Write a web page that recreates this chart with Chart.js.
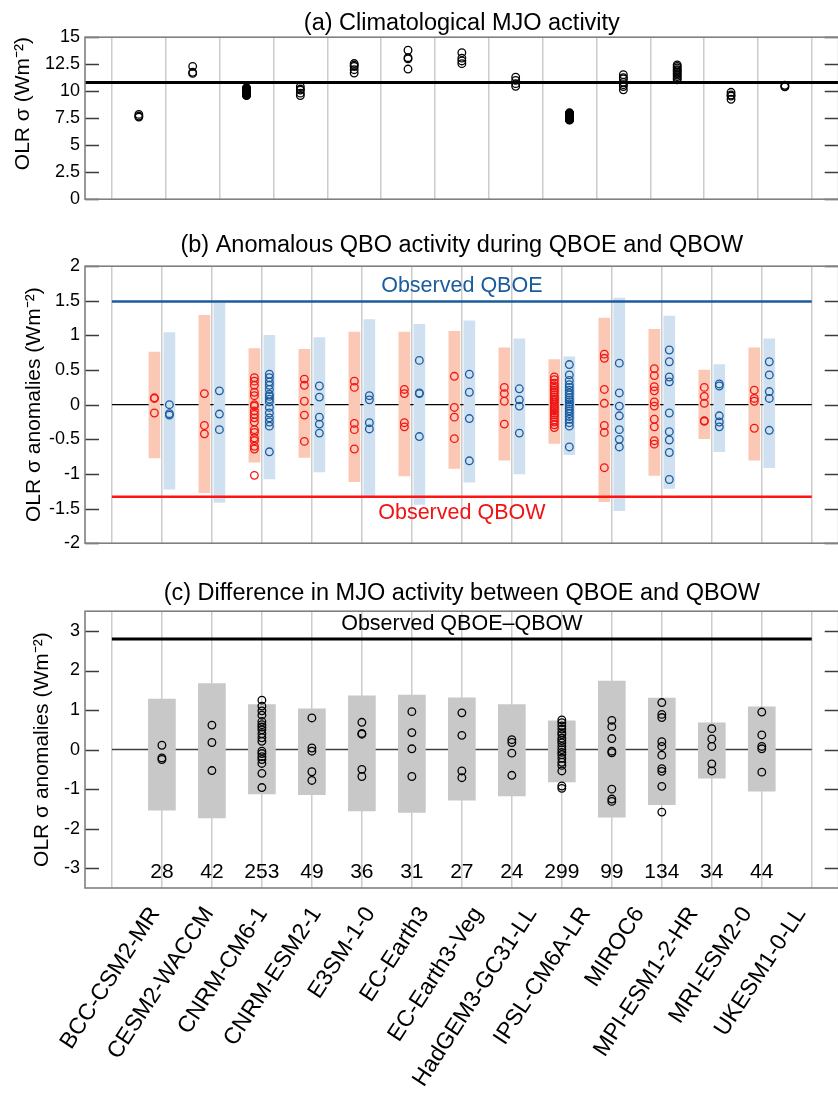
<!DOCTYPE html>
<html>
<head>
<meta charset="utf-8">
<script src="https://cdn.jsdelivr.net/npm/chart.js@4.4.1/dist/chart.umd.min.js"></script>
<style>
  html, body { margin:0; padding:0; background:#fff; overflow:hidden; width:838px; height:1099px; }
  #wrap { position:relative; width:838px; height:1099px; overflow:hidden; }
  canvas { position:absolute; left:0; }
</style>
</head>
<body>
<div id="wrap">
  <canvas id="ca" width="844" height="215" style="top:0px"></canvas>
  <canvas id="cb" width="844" height="337" style="top:222px"></canvas>
  <canvas id="cc" width="844" height="529" style="top:570px"></canvas>
</div>
<script>
// ---------------- DATA ----------------
const models = ['BCC-CSM2-MR','CESM2-WACCM','CNRM-CM6-1','CNRM-ESM2-1','E3SM-1-0','EC-Earth3','EC-Earth3-Veg','HadGEM3-GC31-LL','IPSL-CM6A-LR','MIROC6','MPI-ESM1-2-HR','MRI-ESM2-0','UKESM1-0-LL'];

// (a) climatological OLR sigma per ensemble member
const climMembers = [
  [7.85, 7.7, 7.6],
  [12.3, 11.75, 11.65],
  [10.32,10.27,10.22,10.18,10.13,10.09,10.04,10.0,9.97,9.93,9.88,9.84,9.8,9.77,9.73,9.69,9.66,9.63,9.6],
  [10.43, 10.2, 10.1, 9.82, 9.6],
  [12.56, 12.4, 12.29, 11.99, 11.68],
  [13.79, 13.1, 13.0, 12.05],
  [13.57, 13.06, 12.8, 12.55],
  [11.3, 11.0, 10.7, 10.45],
  [8.0,7.97,7.93,7.9,7.86,7.84,7.8,7.77,7.74,7.71,7.68,7.66,7.62,7.6,7.57,7.54,7.51,7.49,7.46,7.43,7.41,7.38,7.35,7.32],
  [11.53, 11.25, 11.13, 10.82, 10.6, 10.43, 10.13],
  [12.44, 12.3, 12.15, 12.0, 11.9, 11.78, 11.62, 11.5, 11.35, 11.2, 11.05],
  [9.9, 9.65, 9.55, 9.25],
  [10.55, 10.45, 10.4]
];
const obsClim = 10.8;
const climTicks = [0, 2.5, 5, 7.5, 10, 12.5, 15];

// (b) anomalies during QBOW (red) and QBOE (blue)
const qbowMembers = [
  [0.10, 0.09, -0.12],
  [0.16, -0.30, -0.42],
  [0.39,0.34,0.28,0.18,0.13,0.0,-0.02,-0.09,-0.14,-0.19,-0.25,-0.36,-0.40,-0.48,-0.52,-0.60,-0.64,-1.02],
  [0.37, 0.28, 0.05, -0.15, -0.53],
  [0.34, 0.25, -0.27, -0.36, -0.64],
  [0.22, 0.16, -0.26, -0.32],
  [0.41, -0.04, -0.18, -0.49],
  [0.25, 0.16, 0.05, -0.28],
  [0.40,0.36,0.31,0.27,0.24,0.21,0.18,0.14,0.11,0.08,0.06,0.03,0.0,-0.03,-0.06,-0.09,-0.12,-0.15,-0.18,-0.22,-0.25,-0.29,-0.33],
  [0.73, 0.67, 0.22, 0.02, -0.30, -0.40, -0.91],
  [0.52, 0.42, 0.26, 0.20, 0.04, -0.02, -0.21, -0.32, -0.52, -0.57],
  [0.25, 0.12, 0.02, -0.23, -0.24],
  [0.21, 0.09, 0.05, -0.34]
];
const qbowLow  = [-0.77,-1.27,-0.83,-0.76,-1.11,-1.03,-0.92,-0.80,-0.56,-1.40,-1.02,-0.49,-0.80];
const qbowHigh = [ 0.76, 1.29, 0.81, 0.80, 1.05, 1.05, 1.06, 0.82, 0.65, 1.25, 1.09, 0.50, 0.82];
const qboeMembers = [
  [0.0, -0.13, -0.15],
  [0.20, -0.135, -0.36],
  [0.44,0.39,0.33,0.28,0.22,0.15,0.12,0.08,0.04,-0.04,-0.12,-0.19,-0.25,-0.31,-0.68],
  [0.27, 0.11, -0.18, -0.28, -0.41],
  [0.13, 0.07, -0.26, -0.35],
  [0.64, 0.17, 0.16, -0.46],
  [0.44, 0.18, -0.20, -0.81],
  [0.23, 0.07, -0.02, -0.41],
  [0.58,0.43,0.35,0.29,0.25,0.21,0.17,0.14,0.10,0.07,0.04,0.01,-0.02,-0.06,-0.09,-0.13,-0.17,-0.21,-0.26,-0.31,-0.61],
  [0.60, 0.17, -0.02, -0.16, -0.36, -0.50, -0.61],
  [0.79, 0.62, 0.40, 0.33, -0.12, -0.39, -0.51, -0.69, -1.08],
  [0.30, 0.27, -0.16, -0.25, -0.32],
  [0.62, 0.43, 0.19, 0.09, -0.37]
];
const qboeLow  = [-1.22,-1.41,-1.07,-0.97,-1.34,-1.44,-1.12,-1.00,-0.72,-1.53,-1.21,-0.68,-0.91];
const qboeHigh = [ 1.04, 1.47, 1.00, 0.97, 1.23, 1.16, 1.21, 0.95, 0.69, 1.54, 1.28, 0.58, 0.95];
const obsQBOE = 1.49;
const obsQBOW = -1.33;
const anomTicks = [-2, -1.5, -1, -0.5, 0, 0.5, 1, 1.5, 2];

// (c) QBOE minus QBOW
const diffMembers = [
  [0.11, -0.21, -0.25],
  [0.62, 0.18, -0.53],
  [1.25,1.10,0.98,0.87,0.71,0.63,0.57,0.50,0.40,0.30,0.21,-0.04,-0.10,-0.18,-0.25,-0.35,-0.60,-0.96],
  [0.80, 0.04, -0.04, -0.56, -0.78],
  [0.69, 0.41, 0.39, -0.50, -0.68],
  [0.96, 0.43, 0.02, -0.68],
  [0.93, 0.36, -0.54, -0.71],
  [0.25, 0.18, -0.09, -0.65],
  [0.75,0.68,0.60,0.52,0.43,0.38,0.29,0.23,0.17,0.08,0.0,-0.07,-0.13,-0.22,-0.32,-0.40,-0.54,-0.92,-0.98],
  [0.74, 0.58, 0.28, -0.04, -0.08, -1.0, -1.25, -1.31],
  [1.19, 0.89, 0.81, 0.20, 0.08, -0.14, -0.48, -0.55, -0.93, -1.58],
  [0.53, 0.27, 0.08, -0.36, -0.54],
  [0.95, 0.37, 0.08, 0.02, -0.57]
];
const diffLow  = [-1.53,-1.73,-1.12,-1.14,-1.55,-1.59,-1.28,-1.17,-0.82,-1.71,-1.39,-0.72,-1.05];
const diffHigh = [ 1.28, 1.67, 1.14, 1.03, 1.36, 1.38, 1.31, 1.14, 0.73, 1.73, 1.30, 0.68, 1.08];
const obsDiff = 2.8;
const diffTicks = [-3, -2, -1, 0, 1, 2, 3];
const counts = [28, 42, 253, 49, 36, 31, 27, 24, 299, 99, 134, 34, 44];

// ---------------- STYLE / HELPERS ----------------
const FONT = "'Liberation Sans', Arial, Helvetica, sans-serif";
Chart.defaults.font.family = FONT;
Chart.defaults.color = '#000';

const RED = '#f01414', BLUE = '#1b5c9e';
const RED_FILL = '#fac8b4', BLUE_FILL = '#cfe0f1', GRAY_FILL = '#c8c8c8';

function pts(members, off) {
  return members.flatMap((arr, i) => arr.map(v => ({ x: i + off, y: v })));
}
function bars(lo, hi, off) {
  return lo.map((l, i) => ({ x: i + off, y: [l, hi[i]] }));
}
function hline(v) { return [{ x: -1, y: v }, { x: models.length, y: v }]; }

function xGrid() {
  return {
    type: 'linear', min: -1, max: models.length, position: 'bottom',
    afterBuildTicks: s => { s.ticks = models.map((m, i) => ({ value: i - 0.5 })).concat([{ value: models.length - 0.5 }]); },
    grid: { color: '#cccccc', lineWidth: 1.5, drawTicks: false },
    border: { display: false },
    ticks: { display: false }
  };
}
function yAxis(min, max, tickVals, title, pad) {
  return {
    type: 'linear', min, max,
    afterBuildTicks: s => { s.ticks = tickVals.map(v => ({ value: v })); },
    afterFit: s => { s.width = 85; },
    grid: { display: false, drawTicks: false },
    border: { display: false },
    ticks: { font: { size: 18 }, color: '#000', padding: 5, callback: v => String(v) },
    title: { display: true, text: title, font: { size: 21 }, color: '#000', padding: { top: pad, bottom: 0 } }
  };
}
function scatterDS(data, color) {
  return { type: 'scatter', data, pointStyle: 'circle', pointRadius: 3.8, pointBorderWidth: 1.3,
           borderColor: color, pointBorderColor: color, backgroundColor: 'rgba(0,0,0,0)', pointBackgroundColor: 'rgba(0,0,0,0)', order: 1 };
}
function barDS(data, color, thick) {
  return { type: 'bar', data, backgroundColor: color, borderWidth: 0, barThickness: thick, grouped: false, order: 5 };
}
function lineDS(data, color, width, order) {
  return { type: 'line', data, borderColor: color, borderWidth: width, pointRadius: 0, fill: false, order };
}

const framePlugin = {
  id: 'frame',
  afterDatasetsDraw(chart) {
    const { ctx, chartArea: a, scales } = chart;
    const y = scales.y;
    ctx.save();
    ctx.strokeStyle = '#3c3c3c'; ctx.lineWidth = 1.3;
    y.ticks.forEach(t => {
      const py = Math.round(y.getPixelForValue(t.value)) + 0.5;
      ctx.beginPath();
      ctx.moveTo(a.left, py); ctx.lineTo(a.left + 14, py);
      ctx.moveTo(a.right - 14, py); ctx.lineTo(a.right, py);
      ctx.stroke();
    });
    ctx.strokeStyle = '#808080'; ctx.lineWidth = 1.6;
    ctx.strokeRect(a.left, a.top, a.right - a.left, a.bottom - a.top);
    const texts = (chart.options.plugins.frame || {}).texts || [];
    texts.forEach(t => {
      ctx.font = t.size + 'px ' + FONT;
      ctx.fillStyle = t.color || '#000';
      ctx.textAlign = 'center'; ctx.textBaseline = 'middle';
      ctx.fillText(t.text, scales.x.getPixelForValue(t.x), y.getPixelForValue(t.y) + (t.dy || 0));
    });
    ctx.restore();
  }
};

function baseOptions(titleText, titlePad, layoutPad) {
  return {
    responsive: false, animation: false, events: [],
    layout: { padding: layoutPad },
    plugins: {
      legend: { display: false }, tooltip: { enabled: false },
      title: { display: true, text: titleText, fullSize: false, color: '#000',
               font: { size: 23.5, weight: 'normal' }, padding: titlePad }
    }
  };
}

// ---------------- PANEL (a) ----------------
{
  const opts = baseOptions('(a) Climatological MJO activity', { top: 9, bottom: 0 }, { left: 0, right: 0, top: 0, bottom: 15 });
  opts.scales = { x: xGrid(), y: yAxis(0, 15, climTicks, '     OLR σ (Wm⁻²)', 11) };
  new Chart(document.getElementById('ca'), {
    type: 'scatter',
    data: { datasets: [
      lineDS(hline(obsClim), '#000', 3, 0),
      scatterDS(pts(climMembers, 0), '#000')
    ] },
    options: opts,
    plugins: [framePlugin]
  });
}

// ---------------- PANEL (b) ----------------
{
  const opts = baseOptions('(b) Anomalous QBO activity during QBOE and QBOW', { top: 9, bottom: 7 }, { left: 0, right: 0, top: 0, bottom: 15 });
  opts.scales = { x: xGrid(), y: yAxis(-2, 2, anomTicks, 'OLR σ anomalies (Wm⁻²)', 22) };
  opts.plugins.frame = { texts: [
    { text: 'Observed QBOE', x: 6, y: obsQBOE, dy: -15, size: 21.5, color: BLUE },
    { text: 'Observed QBOW', x: 6, y: obsQBOW, dy: 16, size: 21.5, color: RED }
  ] };
  new Chart(document.getElementById('cb'), {
    type: 'scatter',
    data: { datasets: [
      lineDS(hline(0), '#000', 1.3, 10),
      barDS(bars(qbowLow, qbowHigh, -0.15), RED_FILL, 11),
      barDS(bars(qboeLow, qboeHigh, 0.15), BLUE_FILL, 11),
      scatterDS(pts(qbowMembers, -0.15), RED),
      scatterDS(pts(qboeMembers, 0.15), BLUE),
      lineDS(hline(obsQBOE), BLUE, 2.6, 0),
      lineDS(hline(obsQBOW), '#ff1414', 2.6, 0)
    ] },
    options: opts,
    plugins: [framePlugin]
  });
}

// ---------------- PANEL (c) ----------------
{
  const opts = baseOptions('(c) Difference in MJO activity between QBOE and QBOW', { top: 9, bottom: 4 }, { left: 0, right: 0, top: 0, bottom: 0 });
  opts.scales = {
    x: xGrid(),
    xl: {
      type: 'linear', min: -1, max: models.length, position: 'bottom', weight: 1,
      afterBuildTicks: s => { s.ticks = models.map((m, i) => ({ value: i + 0.3 })); },
      afterFit: s => { s.height = 211; },
      grid: { display: false, drawTicks: false },
      border: { display: false },
      ticks: { autoSkip: false, minRotation: 57, maxRotation: 57, padding: 14, font: { size: 23 }, color: '#000',
               callback: (v, idx) => models[idx] }
    },
    y: yAxis(-3.5, 3.5, diffTicks, 'OLR σ anomalies (Wm⁻²)', 30)
  };
  opts.plugins.frame = { texts: [
    { text: 'Observed QBOE–QBOW', x: 6, y: obsDiff, dy: -15, size: 21.5, color: '#000' }
  ].concat(counts.map((c, i) => ({ text: String(c), x: i, y: -3.1, size: 21, color: '#000' }))) };
  new Chart(document.getElementById('cc'), {
    type: 'scatter',
    data: { datasets: [
      lineDS(hline(0), '#404040', 1.5, 10),
      barDS(bars(diffLow, diffHigh, 0), GRAY_FILL, 27),
      scatterDS(pts(diffMembers, 0), '#000'),
      lineDS(hline(obsDiff), '#000', 3, 0)
    ] },
    options: opts,
    plugins: [framePlugin]
  });
}
</script>
</body>
</html>
